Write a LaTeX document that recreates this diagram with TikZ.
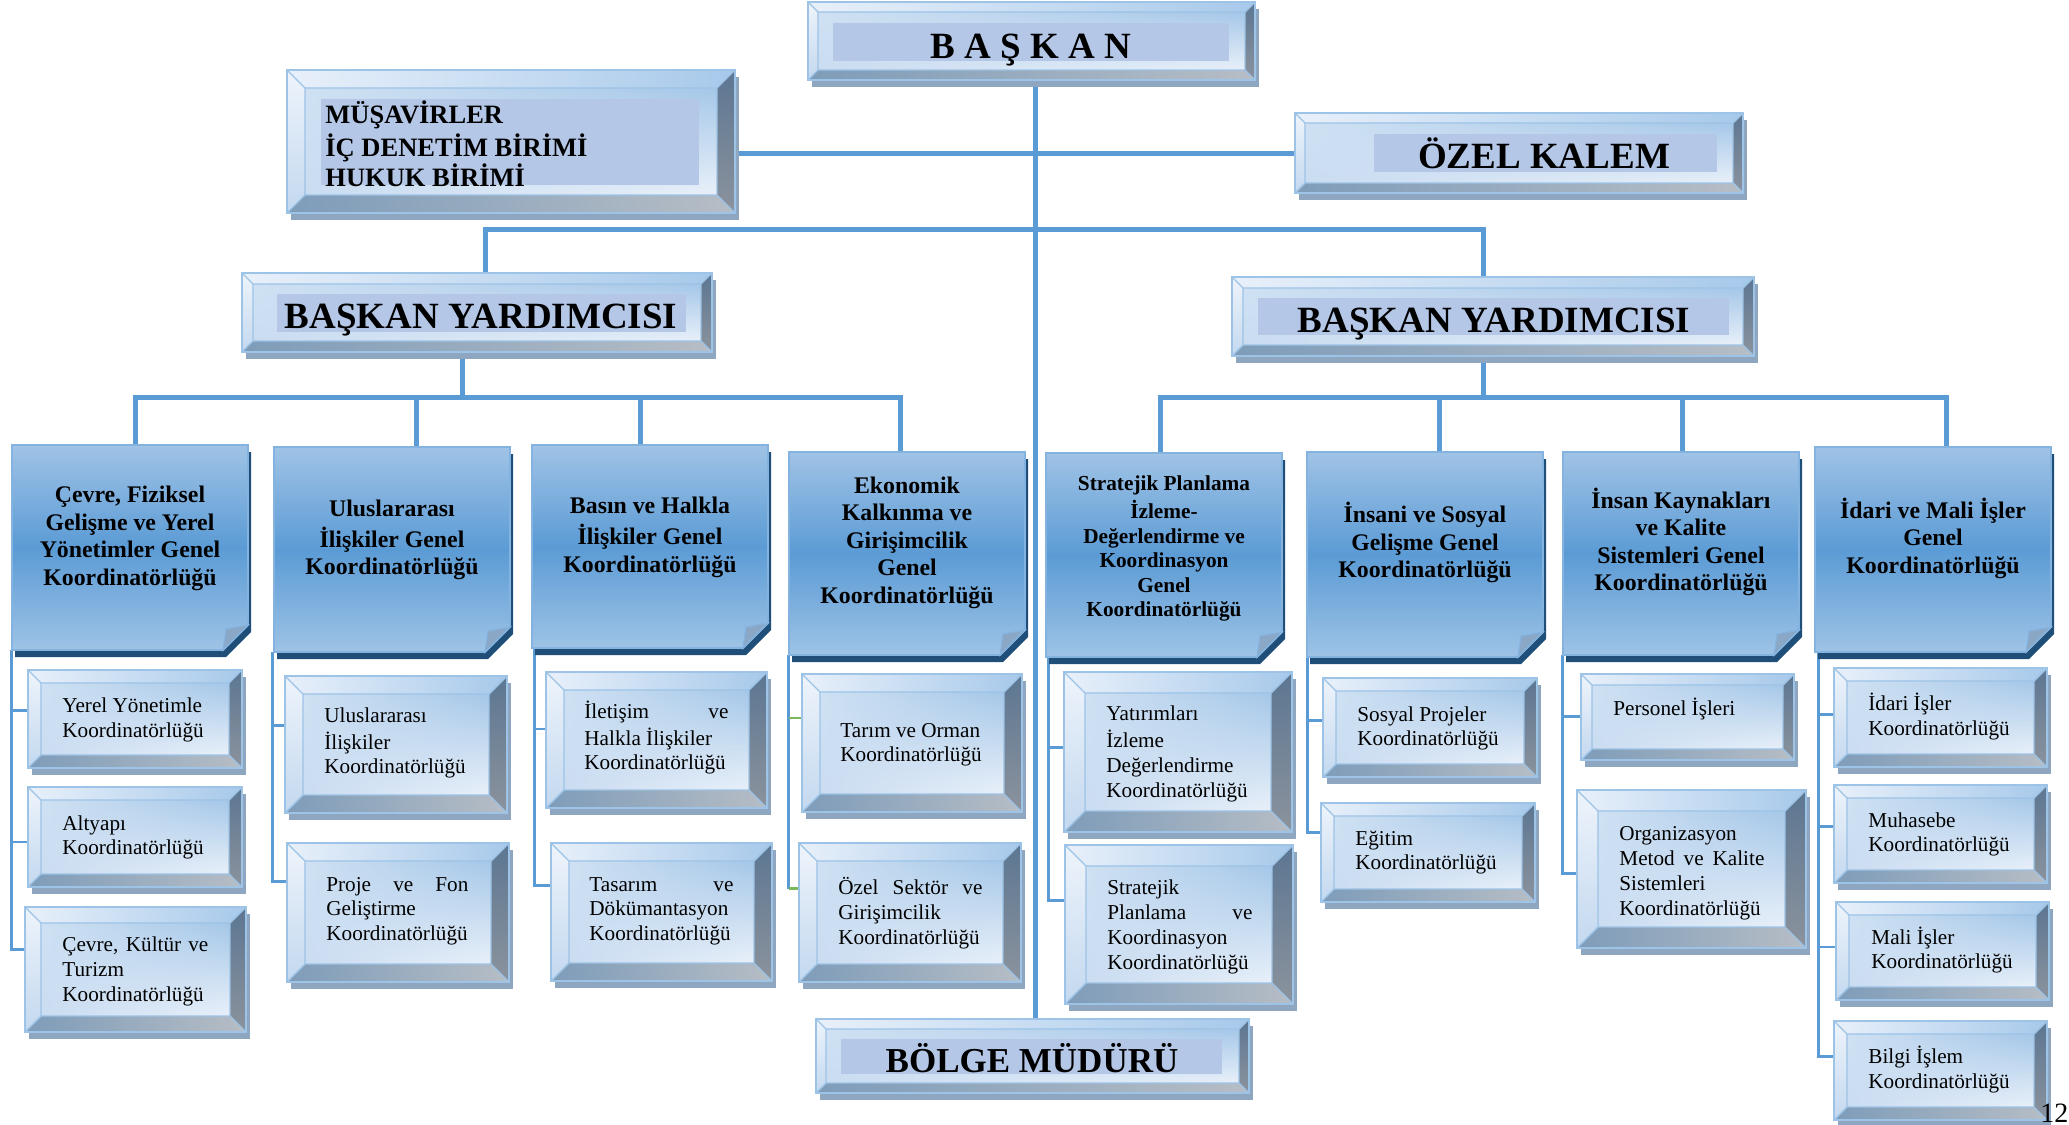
\documentclass[tikz,border=0pt]{standalone}
\usepackage{fontspec}
\setmainfont{Liberation Serif}
\usetikzlibrary{calc,fit,shadings}
\pgfdeclarelayer{bg}
\pgfsetlayers{bg,main}
\definecolor{lineblue}{HTML}{5B9BD5}
\definecolor{lgreen}{HTML}{7DB85B}
\definecolor{bevshadowc}{HTML}{8EA6BF}
\definecolor{bedge}{HTML}{9DC3E6}
\definecolor{topL}{HTML}{E8F0FA}
\definecolor{topR}{HTML}{A7C9EA}
\definecolor{lftT}{HTML}{EEF4FB}
\definecolor{lftB}{HTML}{C3D8EF}
\definecolor{rgtT}{HTML}{5C7692}
\definecolor{rgtB}{HTML}{8B939D}
\definecolor{botL}{HTML}{7E9CB9}
\definecolor{botR}{HTML}{B6BDC5}
\definecolor{faceUL}{HTML}{CFE1F3}
\definecolor{faceUR}{HTML}{A5C7E8}
\definecolor{faceLL}{HTML}{CADCF1}
\definecolor{faceLR}{HTML}{E8F0F9}
\definecolor{bandc}{HTML}{B4C7E7}
\definecolor{gTop}{HTML}{A0C3E6}
\definecolor{gMid}{HTML}{5B9BD5}
\definecolor{gBot}{HTML}{9EC3E6}
\definecolor{gEdge}{HTML}{84B3E0}
\definecolor{gShadowc}{HTML}{1F4E79}
\definecolor{gFold}{HTML}{8BA7C6}
\tikzset{
  mainline/.style={draw=lineblue, line width=2.5pt},
  brline/.style={draw=lineblue, line width=1.4pt},
  grline/.style={draw=lgreen, line width=1.4pt},
  bevshadow/.style={fill=bevshadowc},
  bevin/.style={draw=bedge, line width=0.7pt},
  bevout/.style={draw=bedge, line width=0.9pt},
  band/.style={fill=bandc},
  boxfit/.style={inner sep=0pt, draw=none},
  ttl/.style={font=\bfseries\fontsize{18.5}{22}\selectfont, inner sep=0pt, anchor=base},
  mustxt/.style={font=\bfseries\fontsize{13.25}{15}\selectfont, align=left, inner sep=0pt, anchor=west},
  ctxt/.style={font=\fontsize{10.6}{12.4}\selectfont, align=left, inner sep=0pt, anchor=west},
  gtxt/.style={font=\bfseries\fontsize{11.9}{13.75}\selectfont, align=center, inner sep=0pt},
  gtxts/.style={font=\bfseries\fontsize{10.65}{12.3}\selectfont, align=center, inner sep=0pt},
}
\newcommand{\bev}[6]{%
  \fill[bevshadow] (#2+4,#3+7) rectangle (#4+4,#5+7);
  \shade[upper left=faceUL, upper right=faceUR, lower left=faceLL, lower right=faceLR] (#2+#6,#3+#6) rectangle (#4-#6,#5-#6);
  \shade[left color=topL, right color=topR] (#2,#3) -- (#4,#3) -- (#4-#6,#3+#6) -- (#2+#6,#3+#6) -- cycle;
  \shade[top color=lftT, bottom color=lftB] (#2,#3) -- (#2+#6,#3+#6) -- (#2+#6,#5-#6) -- (#2,#5) -- cycle;
  \shade[top color=rgtT, bottom color=rgtB] (#4,#3) -- (#4,#5) -- (#4-#6,#5-#6) -- (#4-#6,#3+#6) -- cycle;
  \shade[left color=botL, right color=botR] (#2,#5) -- (#2+#6,#5-#6) -- (#4-#6,#5-#6) -- (#4,#5) -- cycle;
  \draw[bevin] (#2+#6,#3+#6) rectangle (#4-#6,#5-#6) (#2,#3) -- (#2+#6,#3+#6) (#4,#3) -- (#4-#6,#3+#6) (#2,#5) -- (#2+#6,#5-#6) (#4,#5) -- (#4-#6,#5-#6);
  \draw[bevout] (#2,#3) rectangle (#4,#5);
  \node[boxfit, fit={(#2,#3)(#4,#5)}] (#1) {};
}
\newcommand{\grp}[5]{%
  \fill[gShadowc] (#2+3,#3+7) -- (#4+3,#3+7) -- (#4+3,#5-18) -- (#4-22,#5+7) -- (#2+3,#5+7) -- cycle;
  \shadedraw[top color=gTop, bottom color=gBot, middle color=gMid, draw=gEdge, line width=0.9pt] (#2,#3) -- (#4,#3) -- (#4,#5-25) -- (#4-25,#5) -- (#2,#5) -- cycle;
  \filldraw[fill=gFold, draw=gEdge, line width=0.6pt] (#4,#5-25) -- (#4-25,#5) -- (#4-22,#5-21) -- cycle;
  \node[boxfit, fit={(#2,#3)(#4,#5)}] (#1) {};
}
\begin{document}
\begin{tikzpicture}[x=0.5pt, y=-0.5pt]
\useasboundingbox (0,0) rectangle (2069,1125);

% ---------- top level boxes ----------
\bev{baskan}{808}{2}{1255}{80}{10}
\fill[band] (833,23) rectangle (1229,61);
\node[ttl] (baskanT) at (1031,58) {B A Ş K A N};

\bev{musavir}{287}{70}{735}{213}{18}
\fill[band] (321,99) rectangle (699,185);
\node[mustxt] (musT) at (325,148) {\strut MÜŞAVİRLER\\İÇ DENETİM BİRİMİ\\HUKUK BİRİMİ\strut};

\bev{ozel}{1295}{113}{1743}{193}{10}
\fill[band] (1374,134) rectangle (1717,172);
\node[ttl] (ozelT) at (1544,168) {ÖZEL KALEM};

\bev{by1}{242}{273}{712}{352}{11}
\fill[band] (277,294) rectangle (686,332);
\node[ttl] (by1T) at (481,328) {BAŞKAN YARDIMCISI};

\bev{by2}{1232}{277}{1754}{356}{11}
\fill[band] (1258,298) rectangle (1729,335);
\node[ttl] (by2T) at (1494,332) {BAŞKAN YARDIMCISI};

\bev{bolge}{816}{1019}{1249}{1093}{10}
\fill[band] (841,1039) rectangle (1222,1074);
\node[ttl, font=\bfseries\fontsize{17.5}{21}\selectfont] (bolgeT) at (1032,1072) {BÖLGE MÜDÜRÜ};

% ---------- group boxes ----------
\grp{g1}{12}{445}{248}{650}
\node[gtxt] (g1T) at (130,538.5) {\strut Çevre, Fiziksel\\Gelişme ve Yerel\\Yönetimler Genel\\Koordinatörlüğü\strut};
\grp{g2}{274}{447}{510}{652}
\node[gtxt] (g2T) at (392,540) {\strut Uluslararası\\İlişkiler Genel\\Koordinatörlüğü\strut};
\grp{g3}{532}{445}{768}{648}
\node[gtxt] (g3T) at (650,537.5) {\strut Basın ve Halkla\\İlişkiler Genel\\Koordinatörlüğü\strut};
\grp{g4}{789}{452}{1025}{655}
\node[gtxt] (g4T) at (907,542.5) {\strut Ekonomik\\Kalkınma ve\\Girişimcilik\\Genel\\Koordinatörlüğü\strut};
\grp{g5}{1046}{453}{1282}{657}
\node[gtxts] (g5T) at (1164,549) {\strut Stratejik Planlama\\İzleme-\\Değerlendirme ve\\Koordinasyon\\Genel\\Koordinatörlüğü\strut};
\grp{g6}{1307}{452}{1543}{657}
\node[gtxt] (g6T) at (1425,544) {\strut İnsani ve Sosyal\\Gelişme Genel\\Koordinatörlüğü\strut};
\grp{g7}{1563}{452}{1799}{655}
\node[gtxt] (g7T) at (1681,543.5) {\strut İnsan Kaynakları\\ve Kalite\\Sistemleri Genel\\Koordinatörlüğü\strut};
\grp{g8}{1815}{447}{2051}{652}
\node[gtxt] (g8T) at (1933,539.5) {\strut İdari ve Mali İşler\\Genel\\Koordinatörlüğü\strut};

% ---------- child boxes ----------
\bev{c1a}{28}{670}{242}{768}{13}
\node[ctxt] (t1a) at (62,720) {\strut Yerel Yönetimle\\Koordinatörlüğü\strut};
\bev{c1b}{28}{787}{242}{887}{13}
\node[ctxt] (t1b) at (62,837.5) {\strut Altyapı\\Koordinatörlüğü\strut};
\bev{c1c}{25}{907}{246}{1032}{16}
\node[ctxt] (t1c) at (62,971.5) {\strut\makebox[73pt][s]{Çevre, Kültür ve}\\Turizm\\Koordinatörlüğü\strut};

\bev{c2a}{285}{676}{507}{813}{18}
\node[ctxt] (t2a) at (324,743) {\strut Uluslararası\\İlişkiler\\Koordinatörlüğü\strut};
\bev{c2b}{287}{843}{509}{982}{18}
\node[ctxt] (t2b) at (326,911) {\strut\makebox[71pt][s]{Proje ve Fon}\\Geliştirme\\Koordinatörlüğü\strut};

\bev{c3a}{546}{672}{767}{808}{18}
\node[ctxt] (t3a) at (584,739) {\strut\makebox[72pt][s]{İletişim ve}\\Halkla İlişkiler\\Koordinatörlüğü\strut};
\bev{c3b}{551}{843}{772}{981}{18}
\node[ctxt] (t3b) at (589,911) {\strut\makebox[72pt][s]{Tasarım ve}\\Dökümantasyon\\Koordinatörlüğü\strut};

\bev{c4a}{802}{674}{1022}{812}{18}
\node[ctxt] (t4a) at (840,744.5) {\strut Tarım ve Orman\\Koordinatörlüğü\strut};
\bev{c4b}{799}{843}{1021}{982}{18}
\node[ctxt] (t4b) at (838,914.5) {\strut\makebox[72pt][s]{Özel Sektör ve}\\Girişimcilik\\Koordinatörlüğü\strut};

\bev{c5a}{1064}{672}{1292}{832}{21}
\node[ctxt] (t5a) at (1106,754) {\strut Yatırımları\\İzleme\\Değerlendirme\\Koordinatörlüğü\strut};
\bev{c5b}{1065}{845}{1293}{1004}{21}
\node[ctxt] (t5b) at (1107,927) {\strut Stratejik\\\makebox[72.5pt][s]{Planlama ve}\\Koordinasyon\\Koordinatörlüğü\strut};

\bev{c6a}{1323}{678}{1537}{777}{13}
\node[ctxt] (t6a) at (1357,728.5) {\strut Sosyal Projeler\\Koordinatörlüğü\strut};
\bev{c6b}{1321}{803}{1535}{902}{13}
\node[ctxt] (t6b) at (1355,852.5) {\strut Eğitim\\Koordinatörlüğü\strut};

\bev{c7a}{1581}{674}{1794}{760}{11}
\node[ctxt, anchor=base west] (t7a) at (1613,715) {Personel İşleri};
\bev{c7b}{1577}{790}{1806}{948}{21}
\node[ctxt] (t7b) at (1619,873) {\strut Organizasyon\\\makebox[72.5pt][s]{Metod ve Kalite}\\Sistemleri\\Koordinatörlüğü\strut};

\bev{c8a}{1834}{668}{2047}{767}{13}
\node[ctxt] (t8a) at (1868,718) {\strut İdari İşler\\Koordinatörlüğü\strut};
\bev{c8b}{1834}{785}{2047}{883}{13}
\node[ctxt] (t8b) at (1868,834.5) {\strut Muhasebe\\Koordinatörlüğü\strut};
\bev{c8c}{1836}{902}{2049}{1000}{13}
\node[ctxt] (t8c) at (1871,951.5) {\strut Mali İşler\\Koordinatörlüğü\strut};
\bev{c8d}{1834}{1021}{2047}{1120}{13}
\node[ctxt] (t8d) at (1868,1071) {\strut Bilgi İşlem\\Koordinatörlüğü\strut};

\node[font=\fontsize{14}{17}\selectfont, anchor=base west, inner sep=0pt] (pg) at (2040,1122) {12};

% ---------- connectors (behind) ----------
\begin{pgfonlayer}{bg}
\coordinate (sp) at (1035,0);
\draw[mainline] (baskan.south -| sp) -- (bolge.north -| sp);
\draw[mainline] (musavir.east |- ozel.west) -- (ozel.west);
\coordinate (tl) at (485,229);
\coordinate (tr) at (1483,229);
\draw[mainline] (by1.north -| tl) -- (tl) -- (tr) -- (by2.north -| tr);
\coordinate (l0) at (462,397);
\coordinate (lA) at (135,397);
\coordinate (lB) at (416,397);
\coordinate (lC) at (640,397);
\coordinate (lD) at (900,397);
\draw[mainline] (by1.south -| l0) -- (l0);
\draw[mainline] (g1.north -| lA) -- (lA) -- (lD) -- (g4.north -| lD);
\draw[mainline] (g2.north -| lB) -- (lB);
\draw[mainline] (g3.north -| lC) -- (lC);
\coordinate (r0) at (1483,397);
\coordinate (rA) at (1160,397);
\coordinate (rB) at (1439,397);
\coordinate (rC) at (1682,397);
\coordinate (rD) at (1946,397);
\draw[mainline] (by2.south -| r0) -- (r0);
\draw[mainline] (g5.north -| rA) -- (rA) -- (rD) -- (g8.north -| rD);
\draw[mainline] (g6.north -| rB) -- (rB);
\draw[mainline] (g7.north -| rC) -- (rC);

\draw[brline] (g1.south west) |- ($(c1a.north west)!0.41!(c1a.south west)$);
\draw[brline] (g1.south west) |- ($(c1b.north west)!0.55!(c1b.south west)$);
\draw[brline] (g1.south west) |- ($(c1c.north west)!0.34!(c1c.south west)$);
\draw[brline] ([xshift=-0.5pt]g2.south west) |- ($(c2a.north west)!0.36!(c2a.south west)$);
\draw[brline] ([xshift=-0.5pt]g2.south west) |- ($(c2b.north west)!0.28!(c2b.south west)$);
\draw[brline] ([xshift=1.5pt]g3.south west) |- ($(c3a.north west)!0.42!(c3a.south west)$);
\draw[brline] ([xshift=1.5pt]g3.south west) |- ($(c3b.north west)!0.31!(c3b.south west)$);
\coordinate (p4a) at ($(c4a.north west)!0.32!(c4a.south west)$);
\coordinate (p4b) at ($(c4b.north west)!0.33!(c4b.south west)$);
\draw[brline] (g4.south west) -- (g4.south west |- p4b);
\draw[grline] (g4.south west |- p4a) -- (p4a);
\draw[grline] (g4.south west |- p4b) -- (p4b);
\draw[brline] ([xshift=1.5pt]g5.south west) |- ($(c5a.north west)!0.47!(c5a.south west)$);
\draw[brline] ([xshift=1.5pt]g5.south west) |- ($(c5b.north west)!0.35!(c5b.south west)$);
\draw[brline] ([xshift=0.5pt]g6.south west) |- ($(c6a.north west)!0.43!(c6a.south west)$);
\draw[brline] ([xshift=0.5pt]g6.south west) |- ($(c6b.north west)!0.30!(c6b.south west)$);
\draw[brline] (g7.south west) |- ($(c7a.north west)!0.49!(c7a.south west)$);
\draw[brline] (g7.south west) |- ($(c7b.north west)!0.53!(c7b.south west)$);
\draw[brline] ([xshift=2pt]g8.south west) |- ($(c8a.north west)!0.47!(c8a.south west)$);
\draw[brline] ([xshift=2pt]g8.south west) |- ($(c8b.north west)!0.42!(c8b.south west)$);
\draw[brline] ([xshift=2pt]g8.south west) |- ($(c8c.north west)!0.46!(c8c.south west)$);
\draw[brline] ([xshift=2pt]g8.south west) |- ($(c8d.north west)!0.36!(c8d.south west)$);
\end{pgfonlayer}
\end{tikzpicture}
\end{document}
